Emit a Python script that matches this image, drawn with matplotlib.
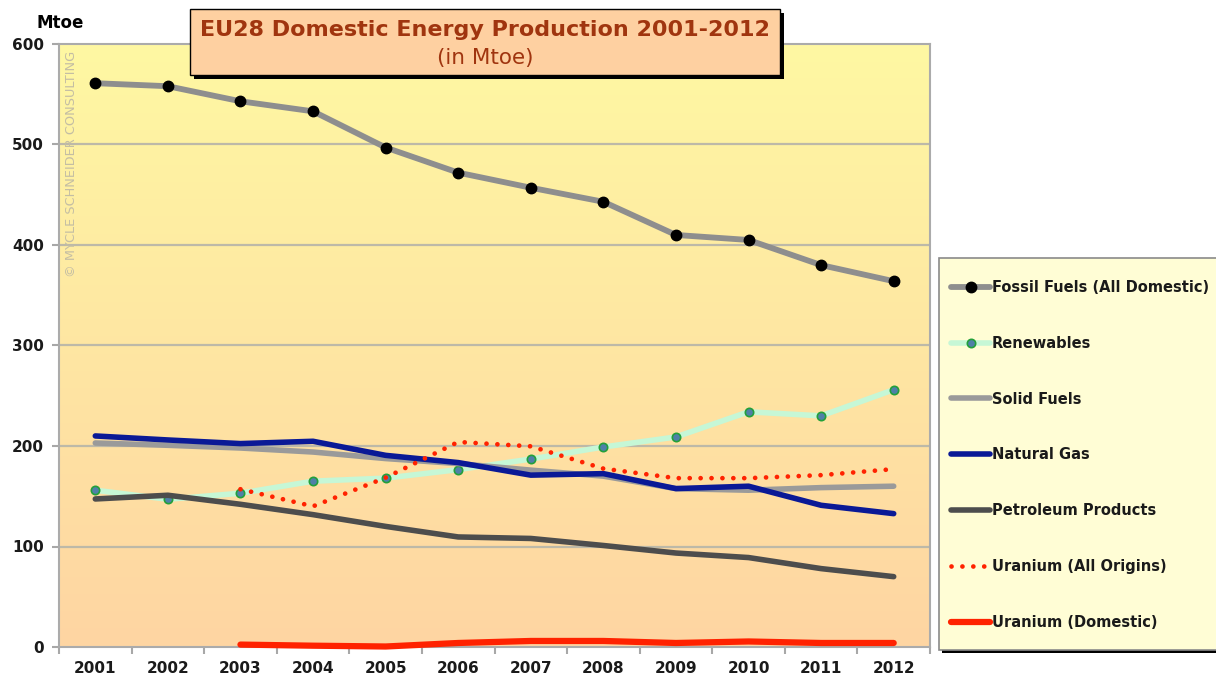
import numpy as np
import matplotlib.pyplot as plt
from matplotlib.patches import Rectangle
from matplotlib.colors import LinearSegmentedColormap

years = ['2001', '2002', '2003', '2004', '2005', '2006', '2007', '2008', '2009', '2010', '2011', '2012']
fossil = [561, 558, 543, 533, 497, 472, 457, 443, 410, 405, 380, 364]
renewables = [156, 147, 153, 165, 168, 176.5, 187, 199, 209, 234, 230, 256]
solid = [203, 200.7, 198, 194, 187.5, 182.5, 176, 170, 157.6, 156, 158.6, 160]
gas = [210, 206, 202.4, 204.7, 190.7, 183.5, 171, 172.5, 157.6, 160, 141, 132.7]
petroleum = [147.3, 151, 142, 131.7, 120, 109.5, 108, 101, 93.5, 89, 78, 70]
# uranium series start in 2003
uran_years = years[2:]
uranium_all = [157, 140, 168.5, 204, 199.7, 177.5, 168, 168, 171, 177]
uranium_dom = [2.4, 1.3, 0.5, 4, 6, 6, 4, 5.5, 4, 4]

W, H = 1216, 678
fig = plt.figure(figsize=(W/100, H/100), dpi=100)
ax = fig.add_axes([59/W, (H-647)/H, (930-59)/W, (647-44)/H])

x = np.arange(len(years))
xu = np.arange(2, len(years))

# gradient background, yellow on top, peach at the bottom
cmap = LinearSegmentedColormap.from_list('bg', ['#fff8a2', '#fed5a3'])
grad = np.linspace(0, 1, 256).reshape(-1, 1)
ax.imshow(grad, cmap=cmap, aspect='auto', extent=[-0.5, 11.5, 0, 600], origin='upper', zorder=0)

for yv in range(100, 600, 100):
    ax.axhline(yv, color='#bdb9a8', lw=1.6, zorder=1)

ax.plot(x, fossil, color='#8e8e8e', lw=4.2, solid_capstyle='round', zorder=3,
        marker='o', ms=7.5, mfc='black', mec='black', label='Fossil Fuels (All Domestic)')
ax.plot(x, renewables, color='#c6f7d6', lw=4, solid_capstyle='round', zorder=3,
        marker='o', ms=6, mfc='#4f80a8', mec='#23a03a', mew=1.2, label='Renewables')
ax.plot(x, solid, color='#9a9a9a', lw=4, solid_capstyle='round', zorder=3, label='Solid Fuels')
ax.plot(x, gas, color='#0a1996', lw=4, solid_capstyle='round', zorder=4, label='Natural Gas')
ax.plot(x, petroleum, color='#4d4d4d', lw=4, solid_capstyle='round', zorder=3, label='Petroleum Products')
ax.plot(xu, uranium_all, color='#ff2200', lw=3.4, linestyle=(0, (0.01, 2.3)),
        dash_capstyle='round', zorder=5, label='Uranium (All Origins)')
ax.plot(xu, uranium_dom, color='#ff2200', lw=4.5, solid_capstyle='round', zorder=5,
        label='Uranium (Domestic)', clip_on=False)

ax.set_xlim(-0.5, 11.5)
ax.set_ylim(0, 600)
ax.set_yticks(range(0, 700, 100))
ax.set_xticks(x)
ax.set_xticklabels(years)
ax.set_xticks(np.arange(-0.5, 12, 1), minor=True)
ax.tick_params(axis='x', which='major', length=0, pad=10)
ax.tick_params(axis='x', which='minor', length=5, color='#a8a8a8', width=1.5)
ax.tick_params(axis='y', length=5, color='#a8a8a8', width=1.5, pad=6)
for lab in ax.get_xticklabels() + ax.get_yticklabels():
    lab.set_fontsize(11)
    lab.set_fontweight('bold')
    lab.set_color('#1a1a1a')
for sp in ax.spines.values():
    sp.set_color('#ababab')
    sp.set_linewidth(1.5)

fig.text(37/W, 1-23/H, 'Mtoe', fontsize=12, fontweight='bold', va='center', ha='left')

# watermark
ax.text(0.014, 0.988, '© MYCLE SCHNEIDER CONSULTING', transform=ax.transAxes, rotation=90,
        fontsize=9.3, color='#c4bea4', ha='center', va='top', zorder=2)

# title box with shadow
fig.patches.append(Rectangle((194/W, 1-79/H), 590/W, 66/H, transform=fig.transFigure,
                             facecolor='black', edgecolor='none', zorder=5))
fig.patches.append(Rectangle((190/W, 1-75/H), 590/W, 66/H, transform=fig.transFigure,
                             facecolor='#fed0a1', edgecolor='black', lw=1, zorder=6))
fig.text(485/W, 1-30/H, 'EU28 Domestic Energy Production 2001-2012', fontsize=16,
         fontweight='bold', color='#a0350f', ha='center', va='center', zorder=7)
fig.text(485/W, 1-58/H, '(in Mtoe)', fontsize=15.5, color='#a0350f', ha='center',
         va='center', zorder=7)

# legend frame drawn by hand, with its shadow
fig.patches.append(Rectangle((942/W, 1-653/H), 300/W, 392/H, transform=fig.transFigure,
                             facecolor='black', edgecolor='none', zorder=5))
fig.patches.append(Rectangle((939/W, 1-650/H), 300/W, 392/H, transform=fig.transFigure,
                             facecolor='#fffdd5', edgecolor='#8a8a8a', lw=1.2, zorder=6))
handles, labels = ax.get_legend_handles_labels()
leg = fig.legend(handles, labels, loc='upper left', bbox_to_anchor=(948/W, 1-277/H),
                 frameon=False, labelspacing=2.8, handlelength=2.7, handletextpad=0.1,
                 borderpad=0.2, borderaxespad=0, prop={'weight': 'bold', 'size': 10.5})
leg.set_zorder(8)
for t in leg.get_texts():
    t.set_color('#1a1a1a')

fig.savefig('out.png', dpi=100)
